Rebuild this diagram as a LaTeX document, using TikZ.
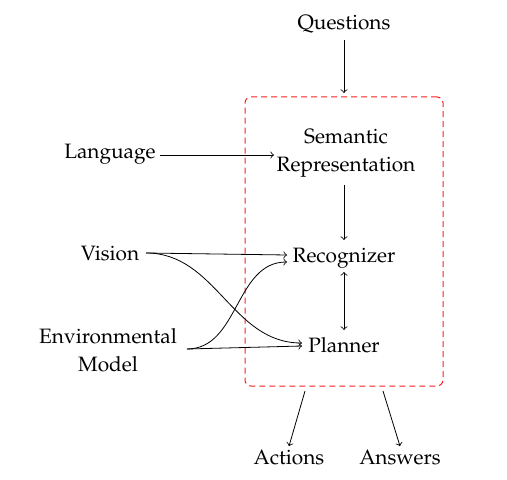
\documentclass[tikz,border=0pt]{standalone}
\usepackage[T1]{fontenc}
\usepackage{mathpazo}
\definecolor{boxred}{RGB}{250,30,30}
\begin{document}
\begin{tikzpicture}[x=0.5pt,y=-0.5pt,
  lbl/.style={align=center,inner sep=2pt,font=\fontsize{10.4}{14.2}\selectfont},
  conn/.style={->},
  region/.style={draw=boxred,line width=0.5pt,dash pattern=on 3pt off 2pt,rounded corners=3pt}]
\useasboundingbox (0,0) rectangle (507,480);
\node[lbl] (q) at (344,24) {Questions};
\node[lbl] (sem) at (346,153) {Semantic\\Representation};
\node[lbl] (lang) at (110,154) {Language};
\node[lbl] (rec) at (344,258) {Recognizer};
\node[lbl] (plan) at (344,345) {Planner};
\node[lbl] (vis) at (110,254) {Vision};
\node[lbl] (env) at (108,350) {Environmental\\Model};
\node[lbl] (act) at (289,458) {Actions};
\node[lbl] (ans) at (400,458) {Answers};
\node[region,minimum width=99pt,minimum height=144.5pt] (box) at (344,241.5) {};
\coordinate (vo) at (146,253);
\coordinate (eo) at (187,349);
\coordinate (ri1) at (287,255);
\coordinate (ri2) at (287,262);
\coordinate (pi1) at (302,343);
\coordinate (pi2) at (302,346);
\coordinate (lo) at (160,155);
\coordinate (si) at (274,155);
\coordinate (b1) at (305,391);
\coordinate (b2) at (383,391);
\draw[conn] (344,40) -- (344,93);
\draw[conn] (lo) -- (si);
\draw[conn] (344,185) -- (344,240);
\draw[<->] (344,272) -- (344,330);
\draw[conn] (vo) -- (ri1);
\draw[conn] (vo) to[out=0,in=180] (pi1);
\draw[conn] (eo) to[out=0,in=180] (ri2);
\draw[conn] (eo) -- (pi2);
\draw[conn] (b1) -- (act.north);
\draw[conn] (b2) -- (ans.north);
\end{tikzpicture}
\end{document}
